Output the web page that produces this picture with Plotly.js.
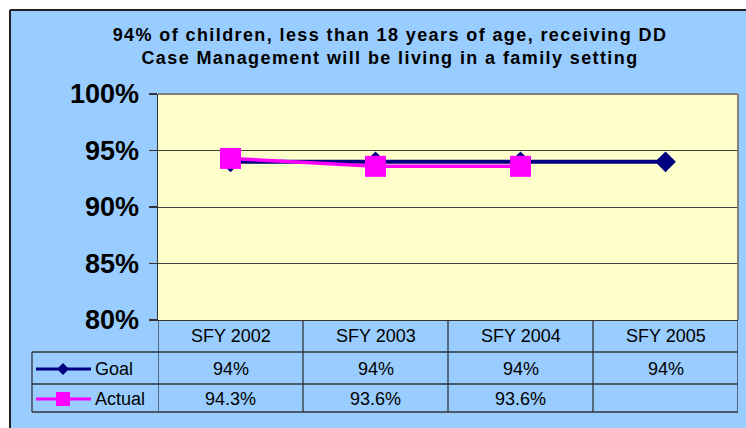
<!DOCTYPE html>
<html>
<head>
<meta charset="utf-8">
<script src="https://cdn.plot.ly/plotly-3.0.1.min.js"></script>
<style>
  html, body { margin: 0; padding: 0; background: #ffffff; }
  #chart { width: 746px; height: 428px; }
  #chart .gtitle { letter-spacing: 1.4px; }
</style>
</head>
<body>
<div id="chart"></div>
<script>
const categories = ['SFY 2002', 'SFY 2003', 'SFY 2004', 'SFY 2005'];
const goal = [94, 94, 94, 94];
const actual = [94.3, 93.6, 93.6, null];
const seriesNames = ['Goal', 'Actual'];
const yTicks = [80, 85, 90, 95, 100];

const W = 746, H = 428;
const M = { l: 158, r: 8, t: 94, b: 108 };
const plotW = W - M.l - M.r;
const plotH = H - M.t - M.b;

// pixel -> paper helpers for the decoration around the plot
const px = x => (x - M.l) / plotW;
const py = y => (H - M.b - y) / plotH;

const NAVY = '#000080';
const PINK = '#ff00ff';
const LINE = '#333333';
const FONT = 'Arial, "Liberation Sans", sans-serif';

const rowY = { header: 336, goal: 369, actual: 399 };

const traces = [
  {
    x: categories, y: goal, name: seriesNames[0],
    type: 'scatter', mode: 'lines+markers',
    line: { color: NAVY, width: 4 },
    marker: { symbol: 'diamond', size: 16, color: NAVY }
  },
  {
    x: categories, y: actual, name: seriesNames[1],
    type: 'scatter', mode: 'lines+markers',
    line: { color: PINK, width: 3.5 },
    marker: { symbol: 'square', size: 21, color: PINK }
  }
];

const shapes = [
  // white frame outside chart border
  { type: 'rect', xref: 'paper', yref: 'paper', x0: px(0), x1: px(W), y0: py(0), y1: py(10), fillcolor: '#ffffff', line: { width: 0 } },
  { type: 'rect', xref: 'paper', yref: 'paper', x0: px(0), x1: px(10), y0: py(0), y1: py(H), fillcolor: '#ffffff', line: { width: 0 } },
  { type: 'line', xref: 'paper', yref: 'paper', x0: px(10), x1: px(W), y0: py(10), y1: py(10), line: { color: '#222', width: 2 } },
  { type: 'line', xref: 'paper', yref: 'paper', x0: px(10), x1: px(10), y0: py(10), y1: py(H), line: { color: '#222', width: 2 } },
  // plot area border (top / right)
  { type: 'line', xref: 'paper', yref: 'paper', x0: 0, x1: 1, y0: 1, y1: 1, line: { color: '#808080', width: 2 } },
  { type: 'line', xref: 'paper', yref: 'paper', x0: 1, x1: 1, y0: 0, y1: 1, line: { color: '#808080', width: 2 } }
];

// data table grid
[352, 384, 412].forEach(y => {
  shapes.push({ type: 'line', xref: 'paper', yref: 'paper', x0: px(32), x1: 1, y0: py(y), y1: py(y), line: { color: LINE, width: 1.3 } });
});
shapes.push({ type: 'line', xref: 'paper', yref: 'paper', x0: px(32), x1: px(32), y0: py(352), y1: py(412), line: { color: LINE, width: 1.3 } });
for (let i = 0; i <= categories.length; i++) {
  shapes.push({ type: 'line', xref: 'x', yref: 'paper', x0: i - 0.5, x1: i - 0.5, y0: 0, y1: py(412), line: { color: LINE, width: 1.3 } });
}

// legend keys inside the table
const keyY = [rowY.goal, rowY.actual];
shapes.push({ type: 'line', xref: 'paper', yref: 'paper', x0: px(36), x1: px(91), y0: py(keyY[0]), y1: py(keyY[0]), line: { color: NAVY, width: 3 } });
shapes.push({ type: 'line', xref: 'paper', yref: 'paper', x0: px(36), x1: px(91), y0: py(keyY[1]), y1: py(keyY[1]), line: { color: PINK, width: 3 } });
const kx = 63;
shapes.push({
  type: 'path', xref: 'paper', yref: 'paper', fillcolor: NAVY, line: { width: 0 },
  path: `M${px(kx - 6)},${py(keyY[0])} L${px(kx)},${py(keyY[0] - 6)} L${px(kx + 6)},${py(keyY[0])} L${px(kx)},${py(keyY[0] + 6)} Z`
});
shapes.push({
  type: 'rect', xref: 'paper', yref: 'paper', fillcolor: PINK, line: { width: 0 },
  x0: px(kx - 7), x1: px(kx + 7), y0: py(keyY[1] - 7), y1: py(keyY[1] + 7)
});

const cellFont = { family: FONT, size: 18, color: '#000' };
const annotations = [];
categories.forEach((c, i) => {
  annotations.push({ xref: 'x', yref: 'paper', x: i, y: py(rowY.header), text: c, showarrow: false, font: cellFont, xanchor: 'center', yanchor: 'middle' });
  annotations.push({ xref: 'x', yref: 'paper', x: i, y: py(rowY.goal), text: goal[i] == null ? '' : goal[i] + '%', showarrow: false, font: cellFont, xanchor: 'center', yanchor: 'middle' });
  annotations.push({ xref: 'x', yref: 'paper', x: i, y: py(rowY.actual), text: actual[i] == null ? '' : actual[i] + '%', showarrow: false, font: cellFont, xanchor: 'center', yanchor: 'middle' });
});
seriesNames.forEach((n, i) => {
  annotations.push({ xref: 'paper', yref: 'paper', x: px(93), y: py(keyY[i]), text: n, showarrow: false, font: cellFont, xanchor: 'left', yanchor: 'middle' });
});

const layout = {
  width: W, height: H,
  margin: M,
  paper_bgcolor: '#99ccff',
  plot_bgcolor: '#ffffcc',
  showlegend: false,
  title: {
    text: '94% of children, less than 18 years of age, receiving DD<br>Case Management will be living in a family setting',
    font: { family: FONT, size: 18, color: '#000', weight: 'bold' },
    xref: 'paper', x: px(390), xanchor: 'center',
    yref: 'container', y: 1 - 41 / H, yanchor: 'middle'
  },
  xaxis: {
    type: 'category', range: [-0.5, categories.length - 0.5],
    showticklabels: false, ticks: '', showgrid: false, zeroline: false,
    showline: true, linecolor: LINE, linewidth: 1.3, fixedrange: true
  },
  yaxis: {
    range: [80, 100], tickvals: yTicks, ticktext: yTicks.map(v => v + '%'),
    tickfont: { family: FONT, size: 27, color: '#000', weight: 'bold' },
    ticks: 'outside', ticklen: 8, tickcolor: LINE, tickwidth: 1.3,
    ticklabelstandoff: 4,
    showline: true, linecolor: LINE, linewidth: 1.5,
    showgrid: true, gridcolor: '#404040', gridwidth: 1, zeroline: false
  },
  shapes: shapes,
  annotations: annotations
};

Plotly.newPlot('chart', traces, layout, { displayModeBar: false, staticPlot: true });
</script>
</body>
</html>
